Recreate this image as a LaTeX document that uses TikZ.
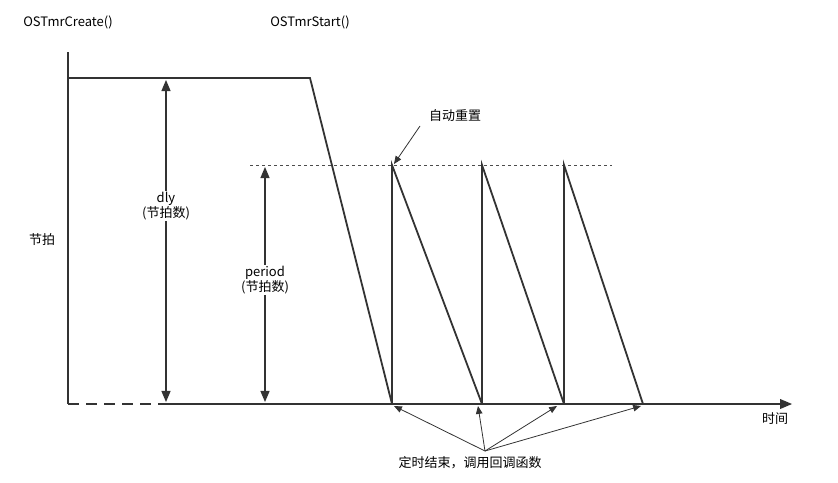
\documentclass[tikz,border=0pt]{standalone}
\usepackage{fontspec}
\setmainfont{Noto Sans CJK SC}
\usetikzlibrary{arrows}
\tikzset{
  axisline/.style={draw=black!80,line width=1.8pt},
  dimarrow/.style={draw=black!80,line width=1.6pt,{triangle 45}-{triangle 45}},
  thinarrow/.style={draw=black!80,line width=0.8pt,-{triangle 45}},
  lbl/.style={inner sep=1pt,font=\fontsize{13}{15}\selectfont},
  onlbl/.style={lbl,fill=white}
}
\begin{document}
\begin{tikzpicture}[x=1pt,y=-1pt]
  \useasboundingbox (0,0) rectangle (838,482);

  % axes and delay
  \draw[axisline] (68,52) -- (68,404);
  \draw[axisline,dashed,dash pattern=on 11pt off 7pt] (68,404) -- (166,404);
  \draw[axisline,-triangle 45] (166,404) -- (792,404);
  \draw[axisline] (68,78) -- (310,78) -- (392,404);

  % dimensions
  \draw[dimarrow] (166,80) -- (166,402);
  \draw[dimarrow] (265,167) -- (265,402);
  \draw[draw=black!70,dashed,line width=0.7pt] (250,165) -- (612,165);

  % periods
  \foreach \a/\b in {392/482,482/564,564/643}
    \draw[axisline] (\a,404) -- (\a,165) -- (\b,404);

  % labels
  \node[lbl] (create) at (68,22) {OSTmrCreate()};
  \node[lbl] (start) at (310,22) {OSTmrStart()};
  \node[lbl] (tick) at (42,240) {节拍};
  \node[lbl] (time) at (775,419) {时间};
  \node[onlbl,align=center] (dly) at (166,206) {dly\\(节拍数)};
  \node[onlbl,align=center] (per) at (265,280) {period\\(节拍数)};
  \node[lbl] (reset) at (455,116) {自动重置};
  \node[lbl] (done) at (470,463) {定时结束，调用回调函数};

  % callouts
  \coordinate (rs) at (420,126);
  \draw[thinarrow] (rs) -- (394,164);
  \coordinate (dn) at (485,451);
  \foreach \x in {394,478,557,641}
    \draw[thinarrow] (dn) -- (\x,406);
\end{tikzpicture}
\end{document}
